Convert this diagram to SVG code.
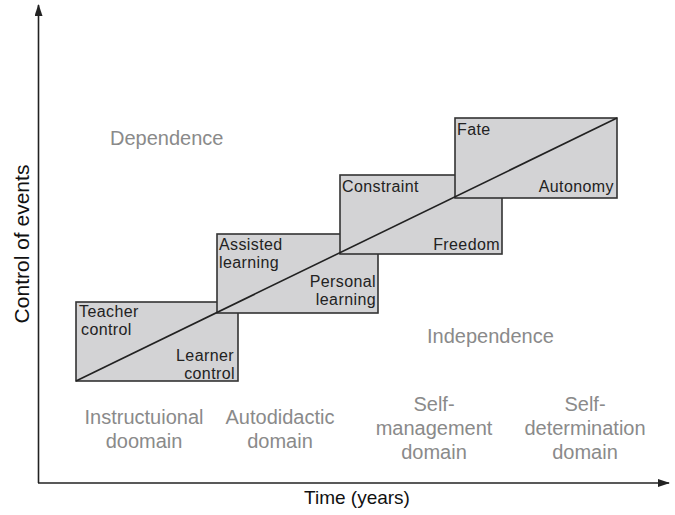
<svg xmlns="http://www.w3.org/2000/svg" width="675" height="515" viewBox="0 0 675 515">
<style>
.box{fill:#d3d3d5;stroke:#333;stroke-width:1.6}
.bt{font-family:"Liberation Sans","DejaVu Sans",sans-serif;font-size:16px;letter-spacing:0.4px;fill:#222}
.gt{font-family:"Liberation Sans","DejaVu Sans",sans-serif;font-size:20px;fill:#8a8a8a}
.at{font-family:"Liberation Sans","DejaVu Sans",sans-serif;font-size:19px;fill:#111}
.ax{stroke:#222;stroke-width:1.6;fill:none}
.r{text-anchor:end}
.m{text-anchor:middle}
</style>
<defs>
<marker id="ah" viewBox="0 0 12 8" refX="11" refY="4" markerWidth="12" markerHeight="8" markerUnits="userSpaceOnUse" orient="auto">
<path d="M0,0 L12,4 L0,8 z" fill="#222"/>
</marker>
</defs>
<g id="axes">
<line class="ax" x1="38.5" y1="483" x2="38.5" y2="5" marker-end="url(#ah)"/>
<line class="ax" x1="38" y1="483" x2="669" y2="483" marker-end="url(#ah)"/>
<text class="at m" style="font-size:21px" transform="translate(29,244) rotate(-90)">Control of events</text>
<text class="at m" x="357" y="504">Time (years)</text>
</g>
<g id="box1">
<rect class="box" x="76" y="302" width="162" height="79"/>
<text class="bt" x="79" y="317">Teacher</text>
<text class="bt" x="81" y="335">control</text>
<text class="bt r" x="234" y="361">Learner</text>
<text class="bt r" x="235" y="379">control</text>
</g>
<g id="box2">
<rect class="box" x="217" y="234" width="161" height="79"/>
<text class="bt" x="219" y="250">Assisted</text>
<text class="bt" x="219" y="268">learning</text>
<text class="bt r" x="376" y="287">Personal</text>
<text class="bt r" x="376" y="305">learning</text>
</g>
<g id="box3">
<rect class="box" x="340" y="175" width="162" height="79"/>
<text class="bt" x="342" y="192">Constraint</text>
<text class="bt r" x="500" y="250">Freedom</text>
</g>
<g id="box4">
<rect class="box" x="455" y="118" width="162" height="80"/>
<text class="bt" x="457" y="135">Fate</text>
<text class="bt r" x="614" y="192">Autonomy</text>
</g>
<g id="connectors">
<line class="ax" x1="76" y1="381" x2="617" y2="118"/>
</g>
<g id="labels">
<text class="gt" x="110" y="145">Dependence</text>
<text class="gt" x="427" y="343">Independence</text>
<text class="gt m" x="144" y="424">Instructuional</text>
<text class="gt m" x="144" y="448">doomain</text>
<text class="gt m" x="280" y="424">Autodidactic</text>
<text class="gt m" x="280" y="448">domain</text>
<text class="gt m" x="434" y="411">Self-</text>
<text class="gt m" x="434" y="435">management</text>
<text class="gt m" x="434" y="459">domain</text>
<text class="gt m" x="585" y="411">Self-</text>
<text class="gt m" x="585" y="435">determination</text>
<text class="gt m" x="585" y="459">domain</text>
</g>
</svg>
